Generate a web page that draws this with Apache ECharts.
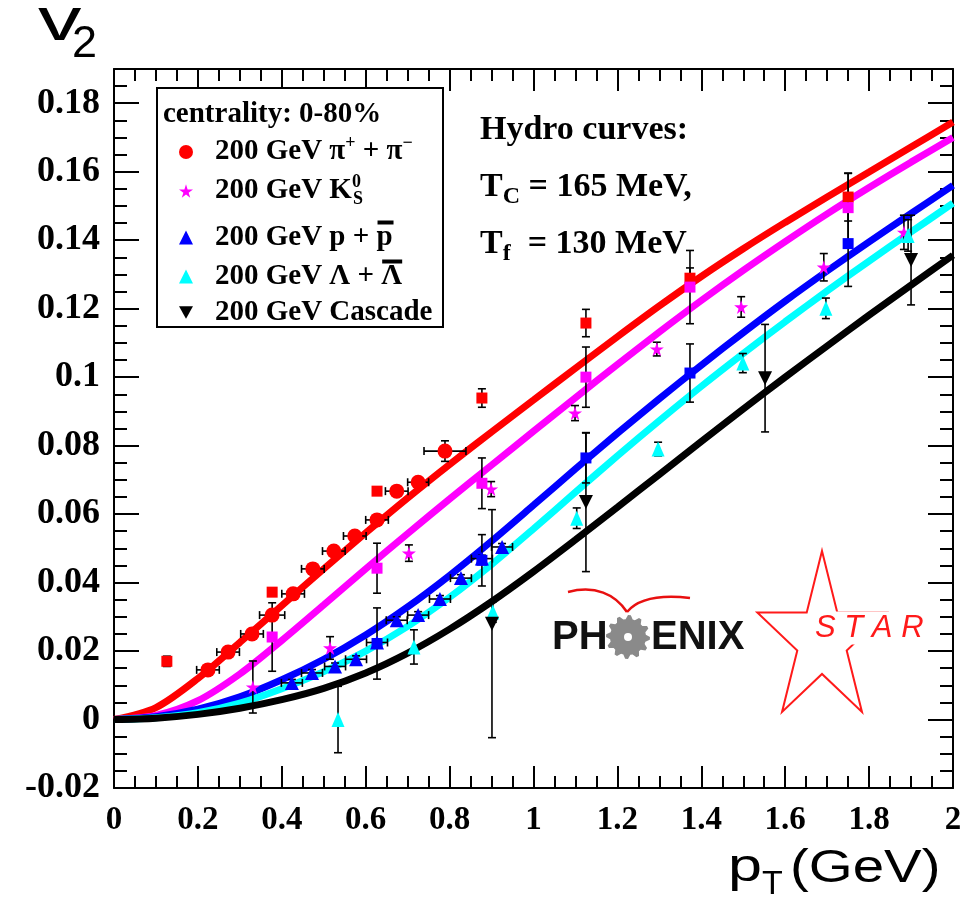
<!DOCTYPE html>
<html><head><meta charset="utf-8">
<script src="https://cdn.jsdelivr.net/npm/echarts@6/dist/echarts.min.js"></script>
<style>html,body{margin:0;padding:0;background:#fff}#c{width:978px;height:903px}</style>
</head><body><div id="c"></div>
<script>
// ---------- hydro curves ----------
const curveX      = [0, 0.1, 0.2, 0.3, 0.4, 0.5, 0.6, 0.7, 0.8, 0.9, 1.0, 1.1, 1.2, 1.3, 1.4, 1.5, 1.6, 1.7, 1.8, 1.9, 2.0];
const hydroPion   = [0, 0.0035, 0.012, 0.0225, 0.0333, 0.044, 0.0545, 0.0647, 0.0745, 0.084, 0.0933, 0.1026, 0.1118, 0.1208, 0.1294, 0.1375, 0.1452, 0.1526, 0.1599, 0.1672, 0.1745];
const hydroKaon   = [0, 0.0012, 0.0055, 0.0133, 0.0231, 0.0335, 0.044, 0.0543, 0.0644, 0.0743, 0.0842, 0.094, 0.1037, 0.1132, 0.1224, 0.1312, 0.1396, 0.1477, 0.1554, 0.1628, 0.17];
const hydroProton = [0, 0.0008, 0.003, 0.0066, 0.0116, 0.0176, 0.0247, 0.0329, 0.0421, 0.0521, 0.0626, 0.0732, 0.0836, 0.0937, 0.1035, 0.113, 0.1222, 0.131, 0.1395, 0.1478, 0.156];
const hydroLambda = [0, 0.0005, 0.002, 0.0048, 0.009, 0.014, 0.02, 0.0272, 0.0357, 0.0453, 0.0557, 0.0664, 0.077, 0.0873, 0.0973, 0.1069, 0.1162, 0.1252, 0.1339, 0.1424, 0.1508];
const hydroCascade= [0, 0.0004, 0.0015, 0.0033, 0.0058, 0.0091, 0.0136, 0.0194, 0.0264, 0.0344, 0.0432, 0.0525, 0.062, 0.0716, 0.0812, 0.0907, 0.1, 0.1091, 0.1181, 0.1269, 0.1356];

// ---------- data points ----------
const pionCircleX    = [0.224, 0.272, 0.329, 0.377, 0.427, 0.474, 0.524, 0.574, 0.627, 0.674, 0.725, 0.789];
const pionCircleY    = [0.0145, 0.0197, 0.025, 0.0305, 0.0367, 0.044, 0.0492, 0.0536, 0.0583, 0.0667, 0.0693, 0.0784];
const pionCircleXErr = [0.027, 0.027, 0.027, 0.03, 0.027, 0.027, 0.027, 0.027, 0.027, 0.027, 0.025, 0.05];
const pionCircleYErr = [0.001, 0.001, 0.001, 0.001, 0.001, 0.001, 0.001, 0.001, 0.001, 0.001, 0.001, 0.003];

const pionSquareX    = [0.126, 0.377, 0.627, 0.877, 1.125, 1.373, 1.75];
const pionSquareY    = [0.017, 0.0372, 0.0667, 0.0939, 0.1158, 0.1289, 0.1526];
const pionSquareYErr = [0.0015, 0.001, 0.001, 0.0027, 0.004, 0.003, 0.007];

const kaonSquareX    = [0.377, 0.627, 0.877, 1.125, 1.373, 1.75];
const kaonSquareY    = [0.0241, 0.0442, 0.069, 0.1, 0.1263, 0.1495];
const kaonSquareYErr = [0.01, 0.0073, 0.0074, 0.0088, 0.0107, 0.01];

const kaonStarX      = [0.331, 0.515, 0.703, 0.899, 1.099, 1.294, 1.495, 1.692, 1.883];
const kaonStarY      = [0.0095, 0.0209, 0.0486, 0.0673, 0.0895, 0.1082, 0.1205, 0.1321, 0.1423];
const kaonStarYErr   = [0.0076, 0.0033, 0.0024, 0.0022, 0.0022, 0.002, 0.003, 0.004, 0.005];

const protonTriX     = [0.424, 0.472, 0.527, 0.577, 0.627, 0.674, 0.725, 0.777, 0.827, 0.877, 0.925];
const protonTriY     = [0.0107, 0.0136, 0.0155, 0.0176, 0.0225, 0.029, 0.0305, 0.0352, 0.0413, 0.047, 0.0504];
const protonTriXErr  = [0.025, 0.025, 0.025, 0.025, 0.025, 0.025, 0.025, 0.025, 0.025, 0.025, 0.025];
const protonTriYErr  = [0.001, 0.001, 0.001, 0.001, 0.001, 0.001, 0.001, 0.001, 0.001, 0.001, 0.001];

const protonSquareX    = [0.627, 0.877, 1.125, 1.373, 1.75];
const protonSquareY    = [0.0222, 0.0465, 0.0764, 0.1012, 0.139];
const protonSquareYErr = [0.0104, 0.0075, 0.0073, 0.0085, 0.0125];

const lambdaX    = [0.534, 0.715, 0.903, 1.103, 1.297, 1.499, 1.697, 1.893];
const lambdaY    = [0.0, 0.0212, 0.0314, 0.0588, 0.079, 0.1041, 0.1201, 0.1414];
const lambdaYErr = [0.0097, 0.005, 0.003, 0.003, 0.002, 0.0028, 0.003, 0.0046];

const cascadeX    = [0.901, 1.125, 1.552, 1.9];
const cascadeY    = [0.028, 0.0635, 0.0997, 0.1342];
const cascadeYErr = [0.0333, 0.0203, 0.0157, 0.0131];

// ---------- axis ----------
const xTickInterval = 0.2;
const yTickInterval = 0.02;

const names = {
  pi: '200 GeV pi', k: '200 GeV K0S', p: '200 GeV p', l: '200 GeV Lambda', c: '200 GeV Cascade'
};
const legendRich = {
  '200 GeV pi': '{g|}{t|200 GeV π}{sup|+}{t| + π}{sup|−}',
  '200 GeV K0S': '{g|}{t|200 GeV K}{supz|0}{sub|S}',
  '200 GeV p': '{g|}{t|200 GeV p + }{tz|p}{barp|}',
  '200 GeV Lambda': '{g|}{t|200 GeV Λ + }{tz|Λ}{barl|}',
  '200 GeV Cascade': '{g|}{t|200 GeV Cascade}'
};

const SERIF = "'Liberation Serif', 'Times New Roman', serif";
const SANS = "'Liberation Sans', Arial, sans-serif";

const zip = (xs, ys) => xs.map((x, i) => [x, ys[i]]);
const zipErr = (xs, ys, xe, ye) => xs.map((x, i) => [x, ys[i], xe ? xe[i] : 0, ye ? ye[i] : 0]);

function curve(name, ys, color) {
  return { type: 'line', name: name, data: zip(curveX, ys), smooth: 0.3, showSymbol: false,
    lineStyle: { color: color, width: 7 }, itemStyle: { color: color }, z: 2, silent: true, animation: false };
}
function errBars(data) {
  return {
    type: 'custom', data: data, z: 3, silent: true, animation: false,
    encode: { x: 0, y: 1 },
    renderItem: function (params, api) {
      const x = api.value(0), y = api.value(1), ex = api.value(2), ey = api.value(3);
      const st = { stroke: '#000', lineWidth: 1.6 };
      const ch = [];
      const cap = 4;
      if (ey > 0) {
        const a = api.coord([x, y - ey]), b = api.coord([x, y + ey]);
        ch.push({ type: 'line', shape: { x1: a[0], y1: a[1], x2: b[0], y2: b[1] }, style: st });
        ch.push({ type: 'line', shape: { x1: a[0] - cap, y1: a[1], x2: a[0] + cap, y2: a[1] }, style: st });
        ch.push({ type: 'line', shape: { x1: b[0] - cap, y1: b[1], x2: b[0] + cap, y2: b[1] }, style: st });
      }
      if (ex > 0) {
        const a = api.coord([x - ex, y]), b = api.coord([x + ex, y]);
        ch.push({ type: 'line', shape: { x1: a[0], y1: a[1], x2: b[0], y2: b[1] }, style: st });
        ch.push({ type: 'line', shape: { x1: a[0], y1: a[1] - cap, x2: a[0], y2: a[1] + cap }, style: st });
        ch.push({ type: 'line', shape: { x1: b[0], y1: b[1] - cap, x2: b[0], y2: b[1] + cap }, style: st });
      }
      return { type: 'group', children: ch };
    }
  };
}
const STAR_PATH = 'path://M50,0 L61,35 L98,35 L68,57 L79,91 L50,70 L21,91 L32,57 L2,35 L39,35 Z';
const DOWN_TRI = 'path://M0,0 L10,0 L5,9 Z';
function pts(name, xs, ys, symbol, size, color) {
  return { type: 'scatter', name: name, data: zip(xs, ys), symbol: symbol, symbolSize: size,
    itemStyle: { color: color, opacity: 1 }, z: 4, silent: true, animation: false };
}

const baseText = { fontFamily: SERIF, fontWeight: 'bold', fontSize: 29, color: '#000' };
const richStyles = {
  g: { width: 17, lineHeight: 34 },
  t: Object.assign({}, baseText, { verticalAlign: 'middle', lineHeight: 34 }),
  tz: Object.assign({}, baseText, { verticalAlign: 'middle', lineHeight: 34, width: 1 }),
  barp: { width: 16, height: 4, backgroundColor: '#000', verticalAlign: 'top' },
  barl: { width: 20, height: 4, backgroundColor: '#000', verticalAlign: 'top' },
  sup: Object.assign({}, baseText, { fontSize: 18, padding: [0, 0, 18, 0], verticalAlign: 'middle' }),
  supz: Object.assign({}, baseText, { fontSize: 18, padding: [0, 0, 18, 0], width: 1, verticalAlign: 'middle' }),
  sub: Object.assign({}, baseText, { fontSize: 18, padding: [16, 0, 0, 0], verticalAlign: 'middle' })
};
const legendRows = [[names.pi, 134], [names.k, 173], [names.p, 208], [names.l, 247], [names.c, 298]];
const legends = legendRows.map(function (r) {
  return { data: [r[0]], left: 179, top: r[1], orient: 'vertical', itemWidth: 14, itemHeight: 14, padding: 0,
    selectedMode: false, formatter: function (n) { return legendRich[n]; },
    textStyle: Object.assign({}, baseText, { rich: richStyles }) };
});

// decorative logos
const starPts = [];
for (let k = 0; k < 10; k++) { const a = k * Math.PI / 5; const rr = k % 2 ? 0.382 : 1; starPts.push([822 + 68 * rr * Math.sin(a), 640 - 89 * rr * Math.cos(a)]); }
const gearPts = [];
for (let k = 0; k < 48; k++) { const a = k * Math.PI / 24; const rr = (Math.floor(k / 2) % 2) ? 18 : 22; gearPts.push([628 + rr * Math.cos(a), 637 + rr * Math.sin(a)]); }

const chart = echarts.init(document.getElementById('c'), null, { renderer: 'canvas' });
const axisCommonX = {
  type: 'value', min: 0, max: 2, interval: xTickInterval,
  axisLine: { show: true, onZero: false, lineStyle: { color: '#000', width: 2 } },
  axisTick: { show: true, inside: true, length: 22, lineStyle: { color: '#000', width: 2 } },
  minorTick: { show: true, splitNumber: 4, length: 12, lineStyle: { color: '#000', width: 2 } },
  splitLine: { show: false }, minorSplitLine: { show: false }
};
const axisCommonY = {
  type: 'value', min: -0.02, max: 0.19, interval: yTickInterval,
  axisLine: { show: true, onZero: false, lineStyle: { color: '#000', width: 2 } },
  axisTick: { show: true, inside: true, length: 25, lineStyle: { color: '#000', width: 2 } },
  minorTick: { show: true, splitNumber: 4, length: 13, lineStyle: { color: '#000', width: 2 } },
  splitLine: { show: false }, minorSplitLine: { show: false }
};

chart.setOption({
  animation: false,
  backgroundColor: '#fff',
  grid: { left: 114, right: 25, top: 69, bottom: 115 },
  xAxis: [
    Object.assign({}, axisCommonX, { position: 'bottom',
      axisLabel: { show: true, fontFamily: SERIF, fontWeight: 'bold', fontSize: 33, color: '#000', margin: 16 } }),
    Object.assign({}, axisCommonX, { position: 'top', axisLabel: { show: false } })
  ],
  yAxis: [
    Object.assign({}, axisCommonY, { position: 'left',
      axisLabel: { show: true, fontFamily: SERIF, fontWeight: 'bold', fontSize: 36, color: '#000', margin: 14, showMaxLabel: false,
        formatter: function (v) { return Math.abs(v - 0.19) < 1e-9 ? '' : String(Math.round(v * 1000) / 1000); } } }),
    Object.assign({}, axisCommonY, { position: 'right', axisLabel: { show: false } })
  ],
  title: [
    { text: 'centrality: 0-80%', left: 163, top: 100, padding: 0,
      textStyle: Object.assign({}, baseText) },
    { text: '{h|Hydro curves:}\n{T|T}{sub|C}{n| = 165 MeV,}\n{T|T}{sub|f}{n|  = 130 MeV}', left: 480, top: 102, padding: 0,
      textStyle: { fontFamily: SERIF, fontWeight: 'bold', fontSize: 34, color: '#000', lineHeight: 57,
        rich: {
          h: { fontFamily: SERIF, fontWeight: 'bold', fontSize: 34, color: '#000', lineHeight: 57, verticalAlign: 'middle' },
          T: { fontFamily: SERIF, fontWeight: 'bold', fontSize: 34, color: '#000', lineHeight: 57, verticalAlign: 'middle' },
          n: { fontFamily: SERIF, fontWeight: 'bold', fontSize: 34, color: '#000', lineHeight: 57, verticalAlign: 'middle' },
          sub: { fontFamily: SERIF, fontWeight: 'bold', fontSize: 24, color: '#000', lineHeight: 57, padding: [18, 0, 0, 0], verticalAlign: 'middle' }
        } } }
  ],
  legend: legends,
  graphic: [
    { type: 'rect', shape: { x: 157, y: 88, width: 286, height: 239 }, style: { fill: '#fff', stroke: '#000', lineWidth: 2 }, z: 1 },
    // axis titles
    { type: 'text', x: 38, y: 23, scaleX: 1.4, style: { text: 'v', font: '62px ' + SANS, fill: '#000', verticalAlign: 'middle', align: 'left' }, z: 10 },
    { type: 'text', x: 72, y: 45, style: { text: '2', font: '45px ' + SANS, fill: '#000', verticalAlign: 'middle', align: 'left' }, z: 10 },
    { type: 'text', x: 728, y: 868, scaleX: 1.3, style: { text: 'p', font: '47px ' + SANS, fill: '#000', verticalAlign: 'middle', align: 'left' }, z: 10 },
    { type: 'text', x: 762, y: 885, style: { text: 'T', font: '34px ' + SANS, fill: '#000', verticalAlign: 'middle', align: 'left' }, z: 10 },
    { type: 'text', x: 790, y: 869, scaleX: 1.2, style: { text: '(GeV)', font: '47px ' + SANS, fill: '#000', verticalAlign: 'middle', align: 'left' }, z: 10 },
    // PHENIX logo
    { type: 'bezierCurve', shape: { x1: 568, y1: 592, cpx1: 595, cpy1: 585, cpx2: 615, cpy2: 594, x2: 627, y2: 612 }, style: { fill: 'none', stroke: '#e81010', lineWidth: 2.5 }, z: 1 },
    { type: 'bezierCurve', shape: { x1: 627, y1: 612, cpx1: 637, cpy1: 600, cpx2: 655, cpy2: 594, x2: 690, y2: 598 }, style: { fill: 'none', stroke: '#e81010', lineWidth: 2.5 }, z: 1 },
    { type: 'text', x: 552, y: 638, style: { text: 'PH', font: 'bold 40px ' + SANS, fill: '#111', verticalAlign: 'middle', align: 'left' }, z: 1 },
    { type: 'polygon', shape: { points: gearPts }, style: { fill: '#8a8a8a' }, z: 1 },
    { type: 'circle', shape: { cx: 628, cy: 637, r: 4 }, style: { fill: '#fff' }, z: 1 },
    { type: 'text', x: 651, y: 638, style: { text: 'ENIX', font: 'bold 40px ' + SANS, fill: '#111', verticalAlign: 'middle', align: 'left' }, z: 1 },
    // STAR logo
    { type: 'polygon', shape: { points: starPts }, style: { fill: 'none', stroke: '#ff1a1a', lineWidth: 2 }, z: 1 },
    { type: 'text', x: 813, y: 628, style: { text: 'S T A R', font: 'italic 31px ' + SANS, fill: '#ff1a1a', verticalAlign: 'middle', align: 'left', backgroundColor: '#fff', padding: [1, 2] }, z: 1 }
  ],
  series: [
    curve('hydroPion', hydroPion, '#ff0000'),
    curve('hydroKaon', hydroKaon, '#ff00ff'),
    curve('hydroProton', hydroProton, '#0000ff'),
    curve('hydroLambda', hydroLambda, '#00ffff'),
    curve('hydroCascade', hydroCascade, '#000000'),
    errBars(zipErr(pionCircleX, pionCircleY, pionCircleXErr, pionCircleYErr)),
    errBars(zipErr(pionSquareX, pionSquareY, null, pionSquareYErr)),
    errBars(zipErr(kaonSquareX, kaonSquareY, null, kaonSquareYErr)),
    errBars(zipErr(kaonStarX, kaonStarY, null, kaonStarYErr)),
    errBars(zipErr(protonTriX, protonTriY, protonTriXErr, protonTriYErr)),
    errBars(zipErr(protonSquareX, protonSquareY, null, protonSquareYErr)),
    errBars(zipErr(lambdaX, lambdaY, null, lambdaYErr)),
    errBars(zipErr(cascadeX, cascadeY, null, cascadeYErr)),
    pts('pionSTAR', pionSquareX, pionSquareY, 'rect', 11, '#ff0000'),
    pts(names.pi, pionCircleX, pionCircleY, 'circle', 15, '#ff0000'),
    pts('kaonSTAR', kaonSquareX, kaonSquareY, 'rect', 11, '#ff00ff'),
    pts(names.k, kaonStarX, kaonStarY, STAR_PATH, 14, '#ff00ff'),
    pts('protonSTAR', protonSquareX, protonSquareY, 'rect', 11, '#0000ff'),
    pts(names.p, protonTriX, protonTriY, 'triangle', 14, '#0000ff'),
    pts(names.l, lambdaX, lambdaY, 'triangle', [13, 15], '#00ffff'),
    pts(names.c, cascadeX, cascadeY, DOWN_TRI, 14, '#000000')
  ]
});
</script></body></html>
